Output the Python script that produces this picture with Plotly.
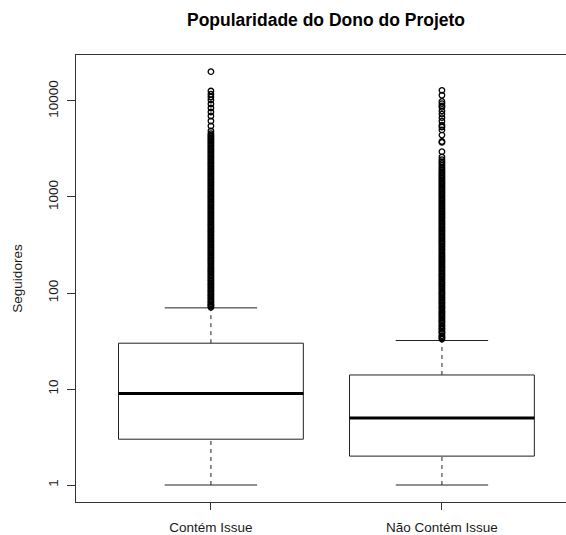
import plotly.graph_objects as go

# Grupos comparados
categorias = ["Contém Issue", "Não Contém Issue"]

# Estatísticas dos boxplots (número de seguidores do dono do projeto)
limite_inferior = [1, 1]
q1 = [3, 2]
mediana = [9, 5]
q3 = [30, 14]
limite_superior = [70, 32]

# Valores atípicos acima do limite superior
outliers_contem = [
    71, 73, 75, 77, 80, 82, 85, 88, 91, 94, 97, 100, 104, 107, 111, 115, 119,
    123, 127, 132, 136, 141, 146, 151, 156, 162, 167, 173, 179, 185, 192, 199,
    206, 213, 220, 228, 236, 244, 253, 262, 271, 280, 290, 300, 311, 322, 333,
    345, 357, 369, 382, 396, 410, 424, 439, 454, 470, 487, 504, 521, 540, 559,
    578, 599, 620, 641, 664, 687, 711, 736, 762, 789, 816, 845, 875, 905, 937,
    970, 1004, 1039, 1075, 1113, 1152, 1192, 1234, 1277, 1322, 1368, 1416,
    1466, 1517, 1570, 1625, 1682, 1741, 1802, 1865, 1930, 1998, 2068, 2140,
    2215, 2293, 2373, 2456, 2542, 2631, 2723, 2818, 2917, 3019, 3125, 3234,
    3347, 3464, 3586, 3711, 3841, 3975, 4114, 4258, 4407, 4561,
    4870, 5490, 6190, 6980, 7680, 8450, 9300, 10240, 11000, 11750, 12700,
    20200,
]
outliers_nao_contem = [
    33, 34, 35, 36, 38, 39, 40, 42, 43, 45, 46, 48, 50, 51, 53, 55, 57, 59,
    61, 63, 65, 68, 70, 72, 75, 78, 80, 83, 86, 89, 92, 96, 99, 102, 106, 110,
    114, 118, 122, 126, 130, 135, 140, 145, 150, 155, 160, 166, 172, 178, 184,
    190, 197, 204, 211, 218, 226, 234, 242, 250, 259, 268, 278, 287, 297, 308,
    319, 330, 341, 353, 366, 378, 392, 405, 420, 434, 449, 465, 482, 498, 516,
    534, 552, 572, 592, 612, 634, 656, 679, 703, 727, 753, 779, 806, 835, 864,
    894, 925, 958, 991, 1026, 1062, 1099, 1137, 1177, 1218, 1261, 1305, 1351,
    1398, 1447, 1498, 1550, 1604, 1660, 1718, 1779, 1841, 1905,
    1980, 2060, 2150, 2240, 2330, 2450, 2610, 2965, 3700, 3785, 4420, 4990,
    5360, 5590, 6150, 6700, 7300, 7870, 8600, 8900, 9400, 9900, 11480, 12900,
]
outliers = [outliers_contem, outliers_nao_contem]

rotulos_y = ["1", "10", "100", "1000", "10000"]
valores_y = [1, 10, 100, 1000, 10000]

FONTE = "Liberation Sans, Arial, sans-serif"
LARGURA_CAIXA = 0.8
LARGURA_HASTE = 0.4

fig = go.Figure()

for i, nome in enumerate(categorias):
    x0 = i + 1
    a, b = x0 - LARGURA_CAIXA / 2, x0 + LARGURA_CAIXA / 2
    c, d = x0 - LARGURA_HASTE / 2, x0 + LARGURA_HASTE / 2

    # hastes tracejadas
    fig.add_trace(go.Scatter(
        x=[x0, x0, None, x0, x0],
        y=[limite_inferior[i], q1[i], None, q3[i], limite_superior[i]],
        mode="lines", line=dict(color="#222", width=1, dash="4px,4px"),
        showlegend=False, hoverinfo="skip"))
    # extremidades das hastes
    fig.add_trace(go.Scatter(
        x=[c, d, None, c, d],
        y=[limite_inferior[i], limite_inferior[i], None,
           limite_superior[i], limite_superior[i]],
        mode="lines", line=dict(color="#222", width=1),
        showlegend=False, hoverinfo="skip"))
    # caixa
    fig.add_trace(go.Scatter(
        x=[a, b, b, a, a],
        y=[q1[i], q1[i], q3[i], q3[i], q1[i]],
        mode="lines", line=dict(color="#222", width=1),
        showlegend=False, hoverinfo="skip"))
    # mediana
    fig.add_trace(go.Scatter(
        x=[a, b], y=[mediana[i], mediana[i]],
        mode="lines", line=dict(color="black", width=3),
        showlegend=False, hoverinfo="skip"))
    # pontos atípicos
    fig.add_trace(go.Scatter(
        x=[x0] * len(outliers[i]), y=outliers[i],
        mode="markers",
        marker=dict(symbol="circle-open", size=5.5, color="black",
                    line=dict(width=1.3, color="black")),
        showlegend=False, hoverinfo="skip"))

fig.update_layout(
    width=566, height=535,
    margin=dict(l=76, r=0, t=55, b=33),
    paper_bgcolor="white", plot_bgcolor="white",
    font=dict(family=FONTE, size=13.5, color="#1a1a1a"),
    title=dict(text="<b>Popularidade do Dono do Projeto</b>",
               x=326 / 566, xanchor="center", xref="container",
               y=1 - 20 / 535, yanchor="middle", yref="container",
               font=dict(family=FONTE, size=17.5, color="black")),
    xaxis=dict(
        range=[0.416, 2.537], tickvals=[1, 2], ticktext=categorias,
        ticks="outside", ticklen=7, tickcolor="#333", tickwidth=1,
        showline=True, mirror=True, linecolor="#333", linewidth=1,
        showgrid=False, zeroline=False, ticklabelstandoff=6,
    ),
    yaxis=dict(
        type="log", range=[-0.177, 4.479],
        tickvals=valores_y, ticktext=rotulos_y, tickangle=-90,
        ticks="outside", ticklen=8, tickcolor="#333", tickwidth=1,
        showline=True, mirror=False, linecolor="#333", linewidth=1,
        showgrid=False, zeroline=False, ticklabelstandoff=4,
        title=dict(text="Seguidores", standoff=19,
                   font=dict(family=FONTE, size=13.5)),
    ),
)

fig.write_html("out.html")
